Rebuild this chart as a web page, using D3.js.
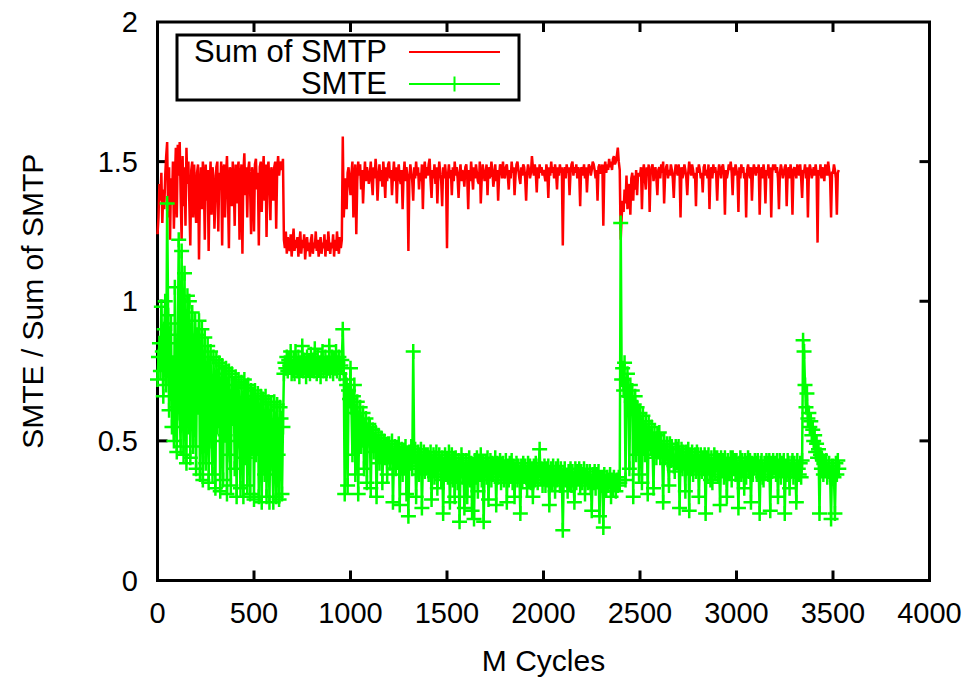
<!DOCTYPE html>
<html>
<head>
<meta charset="utf-8">
<script src="https://cdn.jsdelivr.net/npm/d3@7"></script>
<style>
  body { margin: 0; background: #fff; }
  text { font-family: "Liberation Sans", Arial, sans-serif; fill: #000; }
</style>
</head>
<body>
<script>
// sample spacing along the x axis (M cycles)
var step = 5;

// Sum of SMTP, one value every 5 M cycles from 0 (one row = 100 M cycles)
var smtp = [
  1.24,1.30,1.42,1.36,1.46,1.28,1.40,1.33,1.45,1.52,1.57,1.30,1.48,1.22,1.44,1.35,1.50,1.26,1.43,1.55,
  1.30,1.56,1.45,1.57,1.38,1.22,1.52,1.34,1.48,1.27,1.55,1.42,1.50,1.35,1.20,1.47,1.50,1.30,1.49,1.38,
  1.28,1.46,1.49,1.15,1.40,1.48,1.33,1.50,1.44,1.22,1.49,1.36,1.47,1.18,1.42,1.50,1.31,1.48,1.45,1.26,
  1.36,1.48,1.50,1.25,1.46,1.40,1.50,1.20,1.47,1.49,1.30,1.45,1.52,1.38,1.19,1.48,1.46,1.34,1.50,1.42,
  1.27,1.49,1.35,1.47,1.50,1.22,1.44,1.49,1.17,1.46,1.53,1.38,1.48,1.30,1.47,1.50,1.40,1.24,1.48,1.45,
  1.25,1.49,1.51,1.40,1.46,1.20,1.48,1.50,1.32,1.45,1.52,1.36,1.49,1.23,1.47,1.50,1.41,1.29,1.48,1.46,
  1.36,1.48,1.50,1.26,1.47,1.52,1.45,1.49,1.50,1.47,1.51,1.22,1.19,1.25,1.17,1.23,1.20,1.18,1.24,1.16,
  1.21,1.26,1.18,1.22,1.19,1.23,1.16,1.21,1.25,1.17,1.22,1.19,1.24,1.15,1.20,1.23,1.18,1.21,1.16,1.22,
  1.24,1.17,1.21,1.19,1.25,1.18,1.22,1.16,1.20,1.23,1.17,1.21,1.19,1.24,1.16,1.22,1.18,1.25,1.20,1.17,
  1.21,1.19,1.24,1.16,1.22,1.18,1.25,1.20,1.17,1.23,1.19,1.22,1.59,1.30,1.38,1.44,1.33,1.46,1.48,1.42,
  1.38,1.46,1.50,1.30,1.44,1.49,1.24,1.43,1.50,1.45,1.49,1.40,1.47,1.35,1.44,1.50,1.43,1.48,1.46,1.42,
  1.45,1.50,1.43,1.38,1.48,1.44,1.51,1.46,1.36,1.44,1.49,1.43,1.47,1.41,1.50,1.45,1.37,1.48,1.43,1.49,
  1.50,1.44,1.47,1.38,1.45,1.50,1.43,1.48,1.35,1.46,1.49,1.44,1.42,1.47,1.33,1.45,1.50,1.43,1.48,1.44,
  1.18,1.44,1.49,1.46,1.43,1.36,1.48,1.44,1.50,1.45,1.48,1.40,1.46,1.43,1.49,1.33,1.47,1.50,1.44,1.48,
  1.45,1.49,1.51,1.43,1.37,1.47,1.44,1.49,1.42,1.48,1.35,1.45,1.50,1.46,1.43,1.34,1.48,1.44,1.49,1.45,
  1.19,1.45,1.49,1.44,1.47,1.38,1.48,1.43,1.50,1.45,1.48,1.44,1.37,1.46,1.49,1.43,1.47,1.45,1.41,1.48,
  1.49,1.44,1.33,1.47,1.43,1.50,1.45,1.40,1.48,1.44,1.49,1.46,1.43,1.42,1.50,1.35,1.44,1.49,1.46,1.43,
  1.46,1.49,1.38,1.48,1.44,1.45,1.50,1.47,1.41,1.44,1.49,1.43,1.47,1.36,1.45,1.49,1.48,1.44,1.50,1.45,
  1.44,1.48,1.49,1.45,1.40,1.47,1.44,1.50,1.46,1.48,1.38,1.45,1.49,1.50,1.47,1.44,1.42,1.48,1.45,1.49,
  1.48,1.44,1.36,1.46,1.49,1.47,1.44,1.46,1.52,1.48,1.45,1.49,1.46,1.39,1.48,1.44,1.49,1.46,1.48,1.45,
  1.47,1.45,1.43,1.49,1.46,1.37,1.48,1.45,1.50,1.46,1.48,1.44,1.49,1.46,1.40,1.48,1.45,1.49,1.46,1.48,
  1.20,1.46,1.48,1.44,1.49,1.46,1.48,1.38,1.46,1.49,1.50,1.45,1.48,1.46,1.49,1.44,1.48,1.46,1.34,1.48,
  1.47,1.45,1.49,1.44,1.48,1.39,1.46,1.49,1.48,1.45,1.47,1.50,1.49,1.47,1.44,1.47,1.36,1.48,1.49,1.46,
  1.46,1.49,1.27,1.47,1.50,1.46,1.49,1.47,1.51,1.48,1.50,1.47,1.51,1.52,1.49,1.50,1.52,1.55,1.50,1.47,
  1.22,1.30,1.36,1.32,1.40,1.35,1.45,1.33,1.38,1.42,1.31,1.44,1.46,1.36,1.45,1.40,1.47,1.38,1.46,1.45,
  1.45,1.48,1.33,1.46,1.49,1.44,1.40,1.48,1.45,1.49,1.32,1.46,1.48,1.49,1.43,1.46,1.48,1.44,1.38,1.47,
  1.48,1.44,1.49,1.46,1.50,1.35,1.45,1.48,1.49,1.44,1.47,1.45,1.49,1.47,1.44,1.37,1.46,1.49,1.47,1.45,
  1.49,1.46,1.30,1.48,1.44,1.46,1.49,1.47,1.44,1.38,1.46,1.50,1.47,1.45,1.49,1.47,1.44,1.46,1.34,1.48,
  1.46,1.49,1.47,1.44,1.46,1.39,1.48,1.49,1.45,1.47,1.44,1.49,1.33,1.46,1.48,1.44,1.49,1.46,1.48,1.45,
  1.36,1.46,1.49,1.47,1.44,1.48,1.49,1.46,1.31,1.47,1.44,1.46,1.49,1.47,1.50,1.46,1.38,1.48,1.45,1.49,
  1.47,1.45,1.32,1.48,1.44,1.49,1.46,1.48,1.44,1.46,1.30,1.47,1.49,1.46,1.44,1.48,1.36,1.46,1.49,1.47,
  1.45,1.48,1.46,1.49,1.31,1.46,1.48,1.44,1.49,1.46,1.35,1.47,1.45,1.49,1.44,1.48,1.30,1.46,1.49,1.47,
  1.49,1.46,1.48,1.44,1.33,1.46,1.49,1.47,1.44,1.46,1.48,1.49,1.34,1.46,1.48,1.44,1.49,1.46,1.31,1.47,
  1.48,1.46,1.44,1.49,1.47,1.45,1.49,1.44,1.37,1.47,1.46,1.49,1.44,1.48,1.30,1.46,1.49,1.47,1.44,1.46,
  1.48,1.45,1.49,1.46,1.21,1.47,1.45,1.49,1.44,1.48,1.46,1.43,1.49,1.47,1.45,1.50,1.47,1.44,1.30,1.46,
  1.46,1.49,1.47,1.44,1.31,1.46,1.47
];

// SMTE, same sampling
var smte = [
  0.72,0.80,0.85,0.75,0.98,0.82,0.66,0.90,1.00,0.70,1.35,0.95,0.61,0.88,0.92,0.55,0.78,0.50,1.05,0.62,
  0.46,0.85,1.22,0.60,0.48,1.18,0.75,0.45,1.10,0.68,0.42,1.02,0.55,1.00,0.44,0.80,0.96,0.48,0.70,0.93,
  0.40,0.88,0.62,0.93,0.38,0.75,0.90,0.36,0.68,0.87,0.42,0.58,0.84,0.35,0.72,0.82,0.50,0.38,0.80,0.65,
  0.33,0.79,0.55,0.70,0.78,0.32,0.62,0.77,0.36,0.74,0.52,0.76,0.31,0.68,0.75,0.45,0.34,0.74,0.58,0.70,
  0.40,0.73,0.30,0.65,0.72,0.50,0.33,0.71,0.60,0.30,0.72,0.44,0.69,0.34,0.70,0.55,0.31,0.68,0.48,0.66,
  0.29,0.68,0.45,0.62,0.67,0.30,0.58,0.66,0.28,0.65,0.50,0.38,0.66,0.30,0.61,0.64,0.28,0.55,0.63,0.42,
  0.28,0.64,0.52,0.30,0.63,0.45,0.29,0.62,0.58,0.31,0.55,0.74,0.78,0.76,0.80,0.75,0.79,0.77,0.82,0.74,
  0.76,0.79,0.74,0.82,0.77,0.75,0.80,0.73,0.78,0.76,0.84,0.75,0.79,0.77,0.73,0.80,0.76,0.78,0.74,0.81,
  0.76,0.79,0.75,0.83,0.77,0.74,0.80,0.76,0.78,0.73,0.79,0.82,0.75,0.77,0.80,0.74,0.78,0.76,0.84,0.75,
  0.77,0.80,0.74,0.79,0.76,0.82,0.75,0.78,0.80,0.74,0.77,0.79,0.90,0.76,0.31,0.72,0.70,0.34,0.68,0.65,
  0.76,0.62,0.45,0.66,0.70,0.38,0.60,0.64,0.31,0.58,0.62,0.48,0.56,0.60,0.40,0.55,0.58,0.35,0.54,0.56,
  0.55,0.33,0.52,0.54,0.46,0.50,0.53,0.30,0.49,0.52,0.42,0.48,0.51,0.35,0.47,0.50,0.44,0.48,0.38,0.49,
  0.49,0.42,0.46,0.50,0.28,0.44,0.48,0.40,0.47,0.43,0.49,0.27,0.45,0.47,0.38,0.46,0.41,0.48,0.31,0.45,
  0.23,0.46,0.42,0.48,0.40,0.82,0.45,0.47,0.30,0.41,0.46,0.38,0.45,0.47,0.26,0.42,0.46,0.39,0.45,0.41,
  0.45,0.38,0.44,0.46,0.29,0.41,0.45,0.37,0.44,0.46,0.33,0.40,0.45,0.42,0.36,0.44,0.24,0.41,0.45,0.38,
  0.43,0.37,0.46,0.28,0.40,0.45,0.36,0.43,0.30,0.44,0.39,0.35,0.43,0.21,0.41,0.45,0.37,0.43,0.26,0.38,
  0.43,0.30,0.39,0.44,0.36,0.42,0.25,0.41,0.22,0.43,0.37,0.44,0.32,0.42,0.38,0.45,0.36,0.42,0.21,0.40,
  0.42,0.37,0.44,0.29,0.40,0.43,0.36,0.42,0.38,0.41,0.44,0.27,0.42,0.37,0.41,0.43,0.35,0.41,0.42,0.36,
  0.40,0.43,0.28,0.41,0.36,0.42,0.38,0.43,0.35,0.41,0.30,0.39,0.42,0.36,0.41,0.38,0.24,0.41,0.36,0.42,
  0.38,0.41,0.37,0.33,0.42,0.36,0.41,0.35,0.40,0.30,0.41,0.36,0.42,0.38,0.35,0.41,0.47,0.37,0.40,0.34,
  0.39,0.41,0.34,0.40,0.36,0.41,0.27,0.38,0.40,0.35,0.41,0.37,0.32,0.40,0.36,0.41,0.38,0.34,0.40,0.37,
  0.18,0.38,0.40,0.36,0.37,0.32,0.39,0.35,0.40,0.34,0.39,0.36,0.28,0.40,0.35,0.39,0.37,0.40,0.34,0.39,
  0.35,0.38,0.40,0.31,0.37,0.39,0.35,0.36,0.39,0.34,0.25,0.38,0.35,0.39,0.33,0.38,0.36,0.39,0.23,0.37,
  0.34,0.37,0.19,0.38,0.35,0.33,0.37,0.34,0.36,0.38,0.30,0.36,0.33,0.37,0.35,0.32,0.36,0.34,0.37,0.35,
  1.28,0.72,0.76,0.68,0.78,0.36,0.70,0.74,0.66,0.40,0.70,0.64,0.68,0.30,0.63,0.66,0.45,0.62,0.60,0.38,
  0.60,0.55,0.35,0.59,0.50,0.45,0.57,0.52,0.31,0.56,0.49,0.48,0.55,0.47,0.33,0.53,0.48,0.44,0.52,0.46,
  0.53,0.44,0.50,0.46,0.28,0.50,0.44,0.46,0.49,0.42,0.34,0.49,0.43,0.48,0.45,0.41,0.39,0.48,0.43,0.47,
  0.48,0.26,0.44,0.47,0.40,0.46,0.42,0.32,0.46,0.41,0.47,0.25,0.45,0.40,0.46,0.38,0.42,0.45,0.39,0.46,
  0.45,0.30,0.42,0.45,0.39,0.44,0.40,0.45,0.24,0.44,0.38,0.45,0.41,0.36,0.44,0.35,0.41,0.45,0.39,0.44,
  0.44,0.38,0.43,0.27,0.44,0.40,0.43,0.37,0.44,0.41,0.30,0.43,0.39,0.41,0.44,0.36,0.44,0.40,0.43,0.38,
  0.43,0.39,0.26,0.42,0.44,0.38,0.43,0.40,0.33,0.43,0.37,0.42,0.44,0.39,0.43,0.28,0.42,0.38,0.41,0.43,
  0.42,0.38,0.43,0.40,0.24,0.42,0.43,0.37,0.36,0.42,0.39,0.43,0.42,0.38,0.43,0.25,0.42,0.39,0.43,0.41,
  0.42,0.38,0.43,0.30,0.41,0.43,0.37,0.42,0.40,0.43,0.24,0.41,0.38,0.43,0.42,0.33,0.39,0.42,0.43,0.37,
  0.42,0.39,0.28,0.43,0.40,0.38,0.42,0.37,0.43,0.86,0.82,0.70,0.62,0.67,0.58,0.60,0.55,0.57,0.52,0.54,
  0.50,0.52,0.46,0.49,0.44,0.47,0.24,0.45,0.40,0.43,0.38,0.42,0.40,0.43,0.37,0.39,0.42,0.38,0.22,0.41,
  0.41,0.37,0.24,0.42,0.38,0.43,0.40
];

var xTicks = [0, 500, 1000, 1500, 2000, 2500, 3000, 3500, 4000];
var yTicks = [0, 0.5, 1, 1.5, 2];
var seriesNames = ["Sum of SMTP", "SMTE"];

var colors = {
  "Sum of SMTP": "#ff0000",
  "SMTE": "#00ff00"
};

var W = 973, H = 677;
var margin = { left: 157.5, right: 929.5, top: 22, bottom: 580.5 };

var svg = d3.select("body").append("svg")
  .attr("width", W)
  .attr("height", H);

var x = d3.scaleLinear().domain([0, 4000]).range([margin.left, margin.right]);
var y = d3.scaleLinear().domain([0, 2]).range([margin.bottom, margin.top]);

function toPoints(arr) {
  return arr.map(function(v, i) { return { x: i * step, y: v }; });
}

var line = d3.line()
  .x(function(d) { return x(d.x); })
  .y(function(d) { return y(d.y); });

// frame
svg.append("rect")
  .attr("x", margin.left).attr("y", margin.top)
  .attr("width", margin.right - margin.left).attr("height", margin.bottom - margin.top)
  .attr("fill", "none").attr("stroke", "#000").attr("stroke-width", 3);

// ticks on all four sides, pointing inward (gnuplot mirror)
var tickLen = 10;
var ticks = svg.append("g").attr("stroke", "#000").attr("stroke-width", 3);
xTicks.slice(1, -1).forEach(function(t) {
  ticks.append("line").attr("x1", x(t)).attr("x2", x(t)).attr("y1", margin.bottom).attr("y2", margin.bottom - tickLen);
  ticks.append("line").attr("x1", x(t)).attr("x2", x(t)).attr("y1", margin.top).attr("y2", margin.top + tickLen);
});
yTicks.slice(1, -1).forEach(function(t) {
  ticks.append("line").attr("x1", margin.left).attr("x2", margin.left + tickLen).attr("y1", y(t)).attr("y2", y(t));
  ticks.append("line").attr("x1", margin.right).attr("x2", margin.right - tickLen).attr("y1", y(t)).attr("y2", y(t));
});

// tick labels
var fs = 29;
svg.append("g").selectAll("text").data(xTicks).enter().append("text")
  .attr("x", function(d) { return x(d); })
  .attr("y", 623)
  .attr("text-anchor", "middle")
  .style("font-size", fs + "px")
  .text(function(d) { return d; });

svg.append("g").selectAll("text").data(yTicks).enter().append("text")
  .attr("x", 138)
  .attr("y", function(d) { return y(d) + 10; })
  .attr("text-anchor", "end")
  .style("font-size", fs + "px")
  .text(function(d) { return d; });

// axis titles
svg.append("text")
  .attr("x", (margin.left + margin.right) / 2)
  .attr("y", 671)
  .attr("text-anchor", "middle")
  .style("font-size", "30px")
  .text("M Cycles");

svg.append("text")
  .attr("transform", "translate(43," + ((margin.top + margin.bottom) / 2) + ") rotate(-90)")
  .attr("text-anchor", "middle")
  .style("font-size", "30px")
  .text("SMTE / Sum of SMTP");

// data
var lw = 2.5;
svg.append("path")
  .datum(toPoints(smtp))
  .attr("fill", "none")
  .attr("stroke", colors["Sum of SMTP"])
  .attr("stroke-width", lw)
  .attr("d", line);

var smtePts = toPoints(smte);
svg.append("path")
  .datum(smtePts)
  .attr("fill", "none")
  .attr("stroke", colors["SMTE"])
  .attr("stroke-width", lw)
  .attr("d", line);

var cross = 7.5;
svg.append("path")
  .attr("fill", "none")
  .attr("stroke", colors["SMTE"])
  .attr("stroke-width", 2.5)
  .attr("d", smtePts.map(function(d) {
    var px = x(d.x), py = y(d.y);
    return "M" + (px - cross) + "," + py + "H" + (px + cross) +
           "M" + px + "," + (py - cross) + "V" + (py + cross);
  }).join(""));

// legend
var legend = svg.append("g");
legend.append("rect")
  .attr("x", 177).attr("y", 35)
  .attr("width", 342).attr("height", 65)
  .attr("fill", "#fff").attr("stroke", "#000").attr("stroke-width", 3);

seriesNames.forEach(function(name, i) {
  var cy = 52 + i * 32;
  legend.append("text")
    .attr("x", 387).attr("y", cy + 10)
    .attr("text-anchor", "end")
    .style("font-size", "31px")
    .text(name);
  legend.append("line")
    .attr("x1", 409).attr("x2", 500)
    .attr("y1", cy).attr("y2", cy)
    .attr("stroke", colors[name]).attr("stroke-width", 2);
  if (name === "SMTE") {
    legend.append("path")
      .attr("d", "M" + (454.5 - cross) + "," + cy + "H" + (454.5 + cross) +
                 "M454.5," + (cy - cross) + "V" + (cy + cross))
      .attr("stroke", colors[name]).attr("stroke-width", 2);
  }
});
</script>
</body>
</html>
